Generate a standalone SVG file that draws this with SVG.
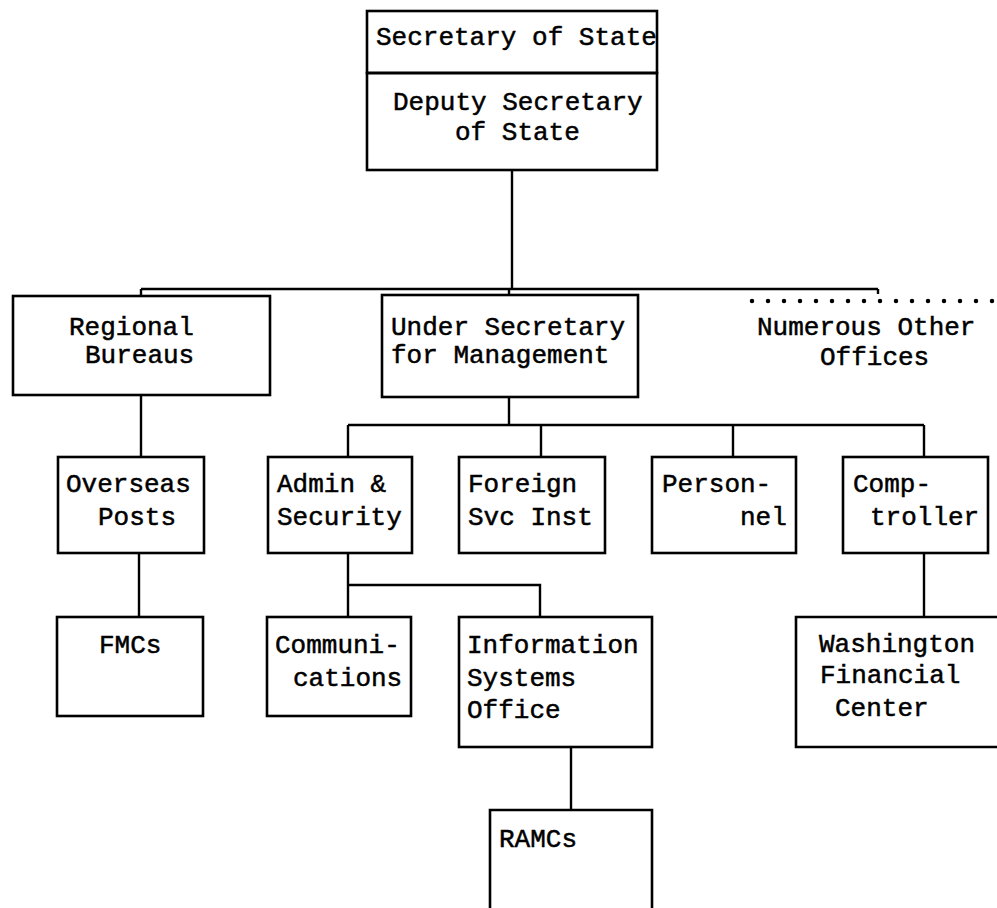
<svg xmlns="http://www.w3.org/2000/svg" width="997" height="908" viewBox="0 0 997 908">
<style>
.box{fill:none;stroke:#000;stroke-width:2.6}
.ln{fill:none;stroke:#000;stroke-width:2.4}
text{font-family:"Liberation Mono","Courier New",monospace;font-size:26px;fill:#000;stroke:#000;stroke-width:0.5}
</style>
<rect width="997" height="908" fill="#fff"/>
<g id="connectors">
<path class="ln" d="M512 170V289M141 289H878M141 289V296M509 289V295M878 289V294"/>
<path class="ln" d="M141 395V457M139 553V617"/>
<path class="ln" d="M509 397V425M348 425H924M348 425V457M541 425V457M733 425V457M924 425V457"/>
<path class="ln" d="M348 553V617M348 585H540V617"/>
<path class="ln" d="M924 553V617"/>
<path class="ln" d="M571 747V810"/>
</g>
<g id="secretary"><rect class="box" x="367" y="11" width="290" height="62"/><text x="376" y="45">Secretary of State</text></g>
<g id="deputy"><rect class="box" x="367" y="73" width="290" height="97"/><text x="393" y="110">Deputy Secretary</text><text x="455" y="140">of State</text></g>
<g id="regional"><rect class="box" x="13" y="296" width="257" height="99"/><text x="69" y="335">Regional</text><text x="85" y="363">Bureaus</text></g>
<g id="undersec"><rect class="box" x="382" y="295" width="256" height="102"/><text x="391" y="335">Under Secretary</text><text x="391" y="363">for Management</text></g>
<g id="numerous"><line x1="752" y1="301" x2="997" y2="301" stroke="#000" stroke-width="4.5" stroke-linecap="round" stroke-dasharray="0 16"/><text x="757" y="335">Numerous Other</text><text x="820" y="365">Offices</text></g>
<g id="overseas"><rect class="box" x="58" y="457" width="146" height="96"/><text x="66" y="492">Overseas</text><text x="98" y="525">Posts</text></g>
<g id="admin"><rect class="box" x="268" y="457" width="144" height="96"/><text x="277" y="492">Admin &amp;</text><text x="277" y="525">Security</text></g>
<g id="foreign"><rect class="box" x="459" y="457" width="146" height="96"/><text x="468" y="492">Foreign</text><text x="468" y="525">Svc Inst</text></g>
<g id="personnel"><rect class="box" x="652" y="457" width="144" height="96"/><text x="662" y="492">Person-</text><text x="740" y="525">nel</text></g>
<g id="comptroller"><rect class="box" x="843" y="457" width="145" height="96"/><text x="853" y="492">Comp-</text><text x="870" y="525">troller</text></g>
<g id="fmcs"><rect class="box" x="57" y="617" width="146" height="99"/><text x="99" y="653">FMCs</text></g>
<g id="communications"><rect class="box" x="267" y="617" width="144" height="99"/><text x="275" y="653">Communi-</text><text x="293" y="686">cations</text></g>
<g id="infosys"><rect class="box" x="459" y="617" width="193" height="130"/><text x="467" y="653">Information</text><text x="467" y="686">Systems</text><text x="467" y="718">Office</text></g>
<g id="washington"><path class="box" d="M999 617H796V747H999"/><text x="819" y="652">Washington</text><text x="820" y="683">Financial</text><text x="835" y="716">Center</text></g>
<g id="ramcs"><path class="box" d="M490 912V810H652V912"/><text x="499" y="847">RAMCs</text></g>
</svg>
